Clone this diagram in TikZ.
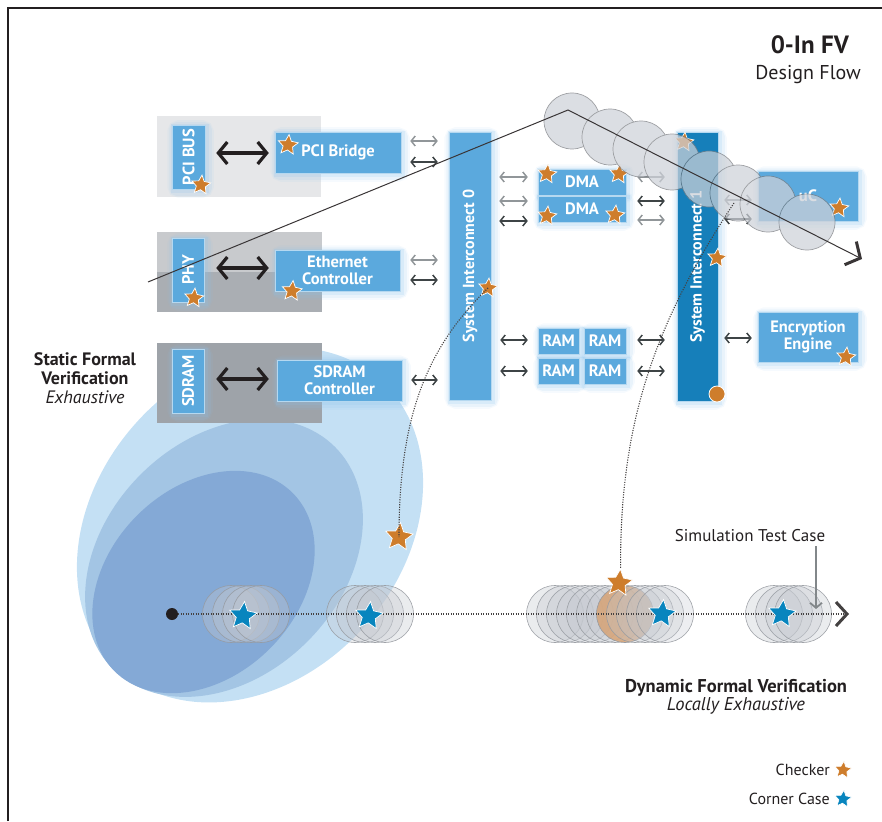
\documentclass[tikz,border=0pt]{standalone}
\usepackage{fontspec}
\setmainfont{PT Sans}
\usepackage{graphicx}
\usetikzlibrary{arrows.meta,shapes.geometric}
\pgfdeclarelayer{bg}
\pgfdeclarelayer{glow}
\pgfsetlayers{bg,glow,main}
\definecolor{boxblue}{RGB}{91,169,221}
\definecolor{sidark}{RGB}{22,127,186}
\definecolor{glowc}{RGB}{140,195,236}
\definecolor{starorange}{RGB}{206,125,44}
\definecolor{starblue}{RGB}{8,133,190}
\definecolor{ellA}{RGB}{196,224,244}
\definecolor{ellB}{RGB}{163,197,228}
\definecolor{ellC}{RGB}{132,169,214}
\definecolor{panA}{RGB}{230,231,233}
\definecolor{panBt}{RGB}{200,202,205}
\definecolor{panBb}{RGB}{170,174,179}
\definecolor{panC}{RGB}{158,163,169}
\definecolor{circfill}{RGB}{196,200,207}
\definecolor{circline}{RGB}{150,154,160}
\definecolor{topcirc}{RGB}{205,209,216}
\definecolor{ink}{RGB}{35,31,32}
\definecolor{arrdark}{RGB}{62,68,70}
\definecolor{arrlight}{RGB}{145,150,153}
\definecolor{orangecirc}{RGB}{214,163,118}
\newcommand\boxfont{\fontsize{16.5}{17}\selectfont\bfseries}
\newcommand\sifont{\fontsize{16}{17}\selectfont\bfseries}
\newcommand\lblfont{\fontsize{18}{19}\selectfont}
\tikzset{
  bbox/.style={fill=boxblue, draw=white!55!boxblue, line width=0.5pt, text=white, inner sep=0pt, align=center, font=\boxfont},
  sibox/.style={bbox, font=\sifont},
  ostar/.style={star, star points=5, star point ratio=2.1, inner sep=0pt, minimum size=20pt, fill=starorange, draw=white, line width=0.7pt, rotate=-6},
  bstar/.style={ostar, fill=starblue, minimum size=29pt},
  bigarr/.style={draw=ink, line width=3.2pt, {Straight Barb[length=9pt,width=22pt]}-{Straight Barb[length=9pt,width=22pt]}},
  smarr/.style={line width=1.5pt, {Straight Barb[length=4pt,width=10pt]}-{Straight Barb[length=4pt,width=10pt]}},
  darkarr/.style={smarr, draw=arrdark},
  lightarr/.style={smarr, draw=arrlight},
  bcirc/.style={fill=circfill, fill opacity=0.35, draw=circline, draw opacity=0.9, line width=0.6pt},
  dots/.style={draw=ink!85, line width=1.1pt, dash pattern=on 1.1pt off 1.4pt},
  lbl/.style={text=ink, inner sep=0pt},
}
\begin{document}
\begin{tikzpicture}[x=1pt,y=-1pt]
\useasboundingbox (0,0) rectangle (882,821);
% frame
\draw[ink, line width=1.3pt] (8,821) -- (8,8) -- (882,8);

\begin{pgfonlayer}{bg}
% ellipses
\fill[ellA, rotate around={48:(250,525)}] (250,525) ellipse [x radius=195, y radius=153];
\fill[ellB, rotate around={45:(224,558)}] (224,558) ellipse [x radius=157, y radius=118];
\fill[ellC, rotate around={45:(203.5,582)}] (203.5,582) ellipse [x radius=126, y radius=94];
% panels
\fill[panA] (157,116) rectangle (321,197);
\fill[panBt] (157,232) rectangle (322,272);
\fill[panBb] (157,272) rectangle (322,312);
\fill[panC] (157,343) rectangle (322,423);
\end{pgfonlayer}

% boxes
\node[bbox, minimum width=33, minimum height=64] (pcibus) at (188.5,157) {\rotatebox{90}{PCI BUS}};
\node[bbox, minimum width=32, minimum height=64] (phy) at (188,270) {\rotatebox{90}{PHY}};
\node[bbox, minimum width=32, minimum height=64] (sdram) at (188,381) {\rotatebox{90}{SDRAM}};
\node[bbox, minimum width=126, minimum height=41] (pcibridge) at (338,152.5) {PCI Bridge};
\node[bbox, minimum width=125, minimum height=41] (eth) at (337.5,270.5) {Ethernet\\Controller};
\node[bbox, minimum width=125, minimum height=41] (sdramc) at (339.5,380.5) {SDRAM\\Controller};
\node[sibox, minimum width=42, minimum height=268] (si0) at (470,266) {\rotatebox{90}{System Interconnect 0}};
\node[sibox, fill=sidark, minimum width=41, minimum height=269] (si1) at (697.5,266.5) {\rotatebox{90}{System Interconnect 1}};
\node[bbox, minimum width=88, minimum height=26] (dma1) at (582,182) {DMA};
\node[bbox, minimum width=88, minimum height=26] (dma2) at (582,209) {DMA};
\node[bbox, minimum width=41, minimum height=26] (ram11) at (558.5,341) {RAM};
\node[bbox, minimum width=42, minimum height=26] (ram12) at (605,341) {RAM};
\node[bbox, minimum width=41, minimum height=26] (ram21) at (558.5,371) {RAM};
\node[bbox, minimum width=42, minimum height=26] (ram22) at (605,371) {RAM};
\node[bbox, minimum width=100, minimum height=50] (uc) at (808,196) {uC};
\node[bbox, minimum width=100, minimum height=50] (enc) at (808,337) {Encryption\\Engine};
\node[circle, fill=starorange, draw=white, line width=0.8pt, minimum size=16pt, inner sep=0pt] (sidot) at (717,394) {};

\begin{pgfonlayer}{glow}
\foreach \n in {pcibus,phy,sdram,pcibridge,eth,sdramc,si0,si1,dma1,dma2,ram11,ram12,ram21,ram22,uc,enc}{
  \draw[glowc, line width=13pt, draw opacity=0.08, rounded corners=5pt] ([shift={(2,2)}]\n.south west) rectangle ([shift={(2,2)}]\n.north east);
  \draw[glowc, line width=9pt, draw opacity=0.12, rounded corners=3pt] ([shift={(2,2)}]\n.south west) rectangle ([shift={(2,2)}]\n.north east);
  \draw[glowc, line width=5pt, draw opacity=0.18] ([shift={(1.5,1.5)}]\n.south west) rectangle ([shift={(1.5,1.5)}]\n.north east);
}
\end{pgfonlayer}

% stars on boxes
\node[ostar] (st1) at (201,185) {};
\node[ostar, minimum size=21pt] (st2) at (288,145) {};
\node[ostar] (st3) at (194,298) {};
\node[ostar, minimum size=21pt] (st4) at (292,291) {};
\node[ostar] (st5) at (488,288) {};
\node[ostar] (st6) at (547,174) {};
\node[ostar] (st7) at (619,174) {};
\node[ostar] (st8) at (547,216) {};
\node[ostar] (st9) at (615,215) {};
\node[ostar] (st10) at (684,142) {};
\node[ostar] (st11) at (717,258) {};
\node[ostar] (st12) at (839,208) {};
\node[ostar] (st13) at (846,357) {};

% big black arrows
\draw[bigarr, shorten <=11pt, shorten >=6pt] (pcibus.east |- 0,153) -- (pcibridge.west |- 0,153);
\draw[bigarr, shorten <=12pt, shorten >=6pt] (phy.east |- 0,268) -- (eth.west |- 0,268);
\draw[bigarr, shorten <=12pt, shorten >=8pt] (sdram.east |- 0,379) -- (sdramc.west |- 0,379);

% small arrows left column -> SI0
\draw[lightarr, shorten <=9pt, shorten >=11pt] (pcibridge.east |- 0,141) -- (si0.west |- 0,141);
\draw[darkarr, shorten <=9pt, shorten >=11pt] (pcibridge.east |- 0,162) -- (si0.west |- 0,162);
\draw[lightarr, shorten <=10pt, shorten >=11pt] (eth.east |- 0,260) -- (si0.west |- 0,260);
\draw[darkarr, shorten <=10pt, shorten >=11pt] (eth.east |- 0,280) -- (si0.west |- 0,280);
\draw[darkarr, shorten <=9pt, shorten >=11pt] (sdramc.east |- 0,380) -- (si0.west |- 0,380);
% SI0 -> DMA / RAM
\draw[lightarr, shorten <=8pt, shorten >=10pt] (si0.east |- 0,177) -- (dma1.west |- 0,177);
\draw[lightarr, shorten <=8pt, shorten >=10pt] (si0.east |- 0,201) -- (dma2.west |- 0,201);
\draw[darkarr, shorten <=8pt, shorten >=10pt] (si0.east |- 0,221) -- (dma2.west |- 0,221);
\draw[darkarr, shorten <=9pt, shorten >=10pt] (si0.east |- 0,340) -- (ram11.west |- 0,340);
\draw[darkarr, shorten <=9pt, shorten >=10pt] (si0.east |- 0,371) -- (ram21.west |- 0,371);
% DMA / RAM -> SI1
\draw[lightarr, shorten <=11pt, shorten >=12pt] (dma1.east |- 0,177) -- (si1.west |- 0,177);
\draw[darkarr, shorten <=11pt, shorten >=12pt] (dma2.east |- 0,201) -- (si1.west |- 0,201);
\draw[lightarr, shorten <=11pt, shorten >=12pt] (dma2.east |- 0,220) -- (si1.west |- 0,220);
\draw[darkarr, shorten <=11pt, shorten >=12pt] (ram12.east |- 0,340) -- (si1.west |- 0,340);
\draw[darkarr, shorten <=11pt, shorten >=12pt] (ram22.east |- 0,371) -- (si1.west |- 0,371);
% SI1 -> uC / Encryption
\draw[lightarr, shorten <=6pt, shorten >=6pt] (si1.east |- 0,200) -- (uc.west |- 0,200);
\draw[darkarr, shorten <=6pt, shorten >=6pt] (si1.east |- 0,219) -- (uc.west |- 0,219);
\draw[darkarr, shorten <=6pt, shorten >=6pt] (si1.east |- 0,338) -- (enc.west |- 0,338);

% top circles
\begin{scope}[transparency group, opacity=0.72]
\foreach \cx/\cy in {572/121,610/137,641/149,672/162,709/179,738/193,768/204,807/222}
  \filldraw[fill=topcirc, draw=circline!80!black, line width=0.7pt] (\cx,\cy) circle[radius=28];
\end{scope}

% top line
\coordinate (lA) at (148,282);
\coordinate (lB) at (568,110);
\coordinate (lC) at (862,259);
\draw[ink!90, line width=1pt, -{Straight Barb[length=11pt,width=26pt,line width=3pt]}] (lA) -- (lB) -- (lC);

% bottom timeline circles
\foreach \cx in {231,241,251,261} \filldraw[bcirc] (\cx,614) circle[radius=28.5];
\foreach \cx in {355,365,375,385} \filldraw[bcirc] (\cx,614) circle[radius=28.5];
\foreach \cx in {555,565,575,585,595,605,615} \filldraw[bcirc] (\cx,614) circle[radius=28.5];
\filldraw[fill=orangecirc, fill opacity=0.85, draw=circline, line width=0.6pt] (625,614) circle[radius=28.5];
\foreach \cx in {635,645,655,665} \filldraw[bcirc, fill opacity=0.3] (\cx,614) circle[radius=28.5];
\foreach \cx in {774,784,794,803} \filldraw[bcirc] (\cx,614) circle[radius=28.5];

% timeline
\node[circle, fill=ink, minimum size=12pt, inner sep=0pt] (dot0) at (172,614) {};
\coordinate (tlend) at (849,614);
\draw[dots, -{Straight Barb[length=11pt,width=24pt,line width=3pt]}] (dot0) -- (tlend);

% stars on timeline
\node[bstar] (b1) at (243,616) {};
\node[bstar] (b2) at (369,616) {};
\node[bstar] (b3) at (662,614) {};
\node[bstar] (b4) at (782,614) {};
\node[ostar, minimum size=29pt] (sfree) at (399,537) {};
\node[ostar, minimum size=28pt] (sbot) at (619,583) {};

% dotted curves
\coordinate (d2s) at (734,203);
\draw[dots] (st5.center) .. controls (430,345) and (399,410) .. (sfree.center);
\draw[dots] (d2s) .. controls (650,330) and (620,430) .. (sbot.north);

% simulation test case
\node[lbl, font=\fontsize{17}{19}\selectfont] (simtxt) at (750,536) {Simulation Test Case};
\coordinate (simtip) at (816,609);
\draw[draw=arrlight!90!black, line width=1.8pt, -{Straight Barb[length=5pt,width=12pt]}, shorten <=4pt] (simtxt.south -| simtip) -- (simtip);

% labels
\node[lbl, anchor=east, font=\fontsize{25}{28}\selectfont\bfseries] (title) at (849,45) {0-In FV};
\node[lbl, anchor=east, font=\fontsize{20}{24}\selectfont] (subtitle) at (861,75) {Design Flow};
\node[lbl, align=center, font=\lblfont] (sfv) at (85,378) {\textbf{Static Formal}\\\textbf{Verification}\\\textit{Exhaustive}};
\node[lbl, align=center, font=\fontsize{18.5}{18}\selectfont] (dfv) at (736,697) {\textbf{Dynamic Formal Verification}\\\textit{Locally Exhaustive}};

% legend
\node[lbl, anchor=east, font=\fontsize{16}{18}\selectfont] (lgt1) at (830,770) {Checker};
\node[ostar, minimum size=18pt] (lg1) at (843,770) {};
\node[lbl, anchor=east, font=\fontsize{16}{18}\selectfont] (lgt2) at (830,799) {Corner Case};
\node[bstar, minimum size=18pt] (lg2) at (843,799) {};
\end{tikzpicture}
\end{document}
